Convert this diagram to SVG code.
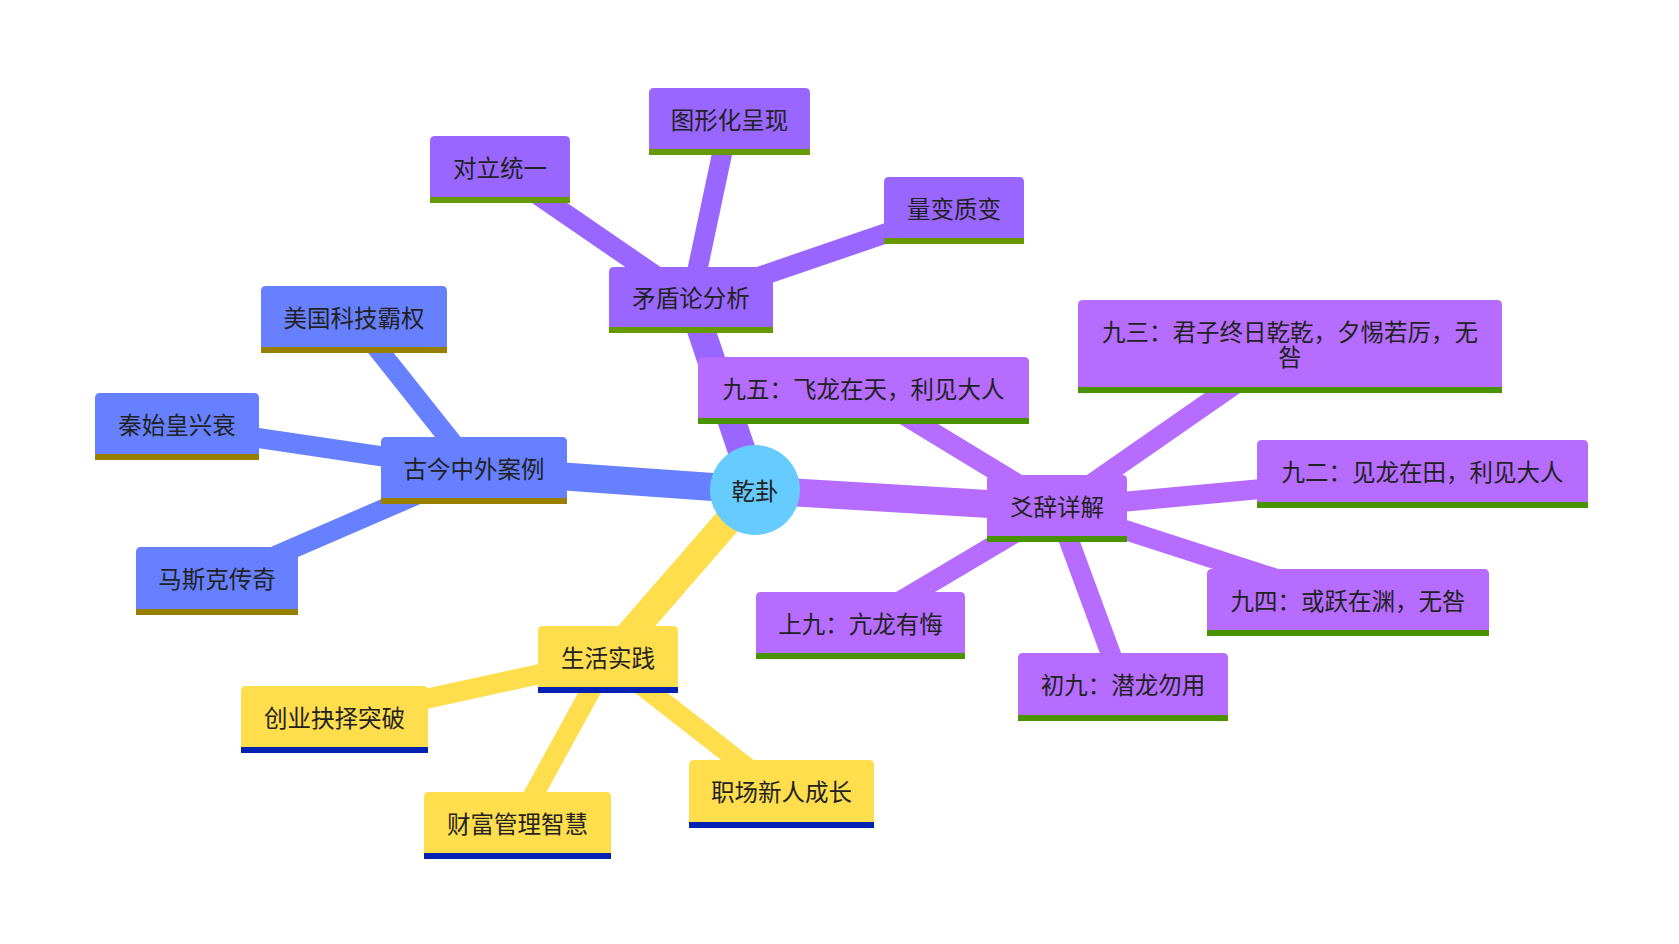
<svg xmlns="http://www.w3.org/2000/svg" width="1679" height="944" viewBox="0 0 1679 944">
<style>
  text { font-family: "Noto Sans CJK SC", "Noto Sans", sans-serif; font-size: 23.5px; fill: #222; text-anchor: middle; dominant-baseline: central; }
  .e0 { stroke-width: 28; fill: none; stroke-linecap: butt; }
  .e1 { stroke-width: 20; fill: none; stroke-linecap: butt; }
  .cb { stroke: #6680ff; } .fb { fill: #6680ff; } .bb { fill: #997f00; }
  .cp { stroke: #9966ff; } .fp { fill: #9966ff; } .bp { fill: #669900; }
  .cq { stroke: #b56cff; } .fq { fill: #b56cff; } .bq { fill: #4a9300; }
  .cy { stroke: #ffde4d; } .fy { fill: #ffde4d; } .by { fill: #0021b2; }
</style>
<rect width="1679" height="944" fill="#ffffff"/>
<g id="connectors">
  <line class="e0 cb" x1="755" y1="490" x2="474" y2="470"/>
  <line class="e0 cp" x1="755" y1="490" x2="691" y2="300"/>
  <line class="e0 cq" x1="755" y1="490" x2="1057" y2="508"/>
  <line class="e0 cy" x1="755" y1="490" x2="608" y2="659"/>
  <line class="e1 cp" x1="691" y1="300" x2="500" y2="169"/>
  <line class="e1 cp" x1="691" y1="300" x2="729" y2="121"/>
  <line class="e1 cp" x1="691" y1="300" x2="954" y2="210"/>
  <line class="e1 cq" x1="1057" y1="508" x2="863" y2="390"/>
  <line class="e1 cq" x1="1057" y1="508" x2="1290" y2="346"/>
  <line class="e1 cq" x1="1057" y1="508" x2="1422" y2="474"/>
  <line class="e1 cq" x1="1057" y1="508" x2="1348" y2="602"/>
  <line class="e1 cq" x1="1057" y1="508" x2="1123" y2="687"/>
  <line class="e1 cq" x1="1057" y1="508" x2="860" y2="625"/>
  <line class="e1 cb" x1="474" y1="470" x2="354" y2="319"/>
  <line class="e1 cb" x1="474" y1="470" x2="177" y2="426"/>
  <line class="e1 cb" x1="474" y1="470" x2="217" y2="581"/>
  <line class="e1 cy" x1="608" y1="659" x2="334" y2="719"/>
  <line class="e1 cy" x1="608" y1="659" x2="517" y2="825"/>
  <line class="e1 cy" x1="608" y1="659" x2="781" y2="794"/>
</g>
<g id="root">
  <circle cx="755" cy="490" r="45" fill="#66ccff"/>
  <text x="755" y="490">乾卦</text>
</g>
<g id="n-maodun">
  <path class="fp" d="M609,333 V272 Q609,267 614,267 H768 Q773,267 773,272 V333 Z"/>
  <rect class="bp" x="609" y="327" width="164" height="6"/>
  <text x="691" y="297">矛盾论分析</text>
</g>
<g id="n-duili">
  <path class="fp" d="M430,203 V141 Q430,136 435,136 H565 Q570,136 570,141 V203 Z"/>
  <rect class="bp" x="430" y="197" width="140" height="6"/>
  <text x="500" y="167">对立统一</text>
</g>
<g id="n-tuxing">
  <path class="fp" d="M649,155 V93 Q649,88 654,88 H805 Q810,88 810,93 V155 Z"/>
  <rect class="bp" x="649" y="149" width="161" height="6"/>
  <text x="729.5" y="119">图形化呈现</text>
</g>
<g id="n-liangbian">
  <path class="fp" d="M884,244 V182 Q884,177 889,177 H1019 Q1024,177 1024,182 V244 Z"/>
  <rect class="bp" x="884" y="238" width="140" height="6"/>
  <text x="954" y="208">量变质变</text>
</g>
<g id="n-yaoci">
  <path class="fq" d="M987,542 V480 Q987,475 992,475 H1122 Q1127,475 1127,480 V542 Z"/>
  <rect class="bq" x="987" y="536" width="140" height="6"/>
  <text x="1057" y="506">爻辞详解</text>
</g>
<g id="n-jiuwu">
  <path class="fq" d="M698,424 V362 Q698,357 703,357 H1024 Q1029,357 1029,362 V424 Z"/>
  <rect class="bq" x="698" y="418" width="331" height="6"/>
  <text x="863.5" y="388">九五：飞龙在天，利见大人</text>
</g>
<g id="n-jiusan">
  <path class="fq" d="M1078,393 V305 Q1078,300 1083,300 H1497 Q1502,300 1502,305 V393 Z"/>
  <rect class="bq" x="1078" y="387" width="424" height="6"/>
  <text x="1290" y="331">九三：君子终日乾乾，夕惕若厉，无</text>
  <text x="1290" y="356">咎</text>
</g>
<g id="n-jiuer">
  <path class="fq" d="M1257,508 V445 Q1257,440 1262,440 H1583 Q1588,440 1588,445 V508 Z"/>
  <rect class="bq" x="1257" y="502" width="331" height="6"/>
  <text x="1422.5" y="471">九二：见龙在田，利见大人</text>
</g>
<g id="n-jiusi">
  <path class="fq" d="M1207,636 V574 Q1207,569 1212,569 H1484 Q1489,569 1489,574 V636 Z"/>
  <rect class="bq" x="1207" y="630" width="282" height="6"/>
  <text x="1348" y="600">九四：或跃在渊，无咎</text>
</g>
<g id="n-chujiu">
  <path class="fq" d="M1018,721 V658 Q1018,653 1023,653 H1223 Q1228,653 1228,658 V721 Z"/>
  <rect class="bq" x="1018" y="715" width="210" height="6"/>
  <text x="1123" y="684">初九：潜龙勿用</text>
</g>
<g id="n-shangjiu">
  <path class="fq" d="M756,659 V597 Q756,592 761,592 H960 Q965,592 965,597 V659 Z"/>
  <rect class="bq" x="756" y="653" width="209" height="6"/>
  <text x="860.5" y="623">上九：亢龙有悔</text>
</g>
<g id="n-gujin">
  <path class="fb" d="M381,504 V442 Q381,437 386,437 H562 Q567,437 567,442 V504 Z"/>
  <rect class="bb" x="381" y="498" width="186" height="6"/>
  <text x="474" y="468">古今中外案例</text>
</g>
<g id="n-meiguo">
  <path class="fb" d="M261,353 V291 Q261,286 266,286 H442 Q447,286 447,291 V353 Z"/>
  <rect class="bb" x="261" y="347" width="186" height="6"/>
  <text x="354" y="317">美国科技霸权</text>
</g>
<g id="n-qin">
  <path class="fb" d="M95,460 V398 Q95,393 100,393 H254 Q259,393 259,398 V460 Z"/>
  <rect class="bb" x="95" y="454" width="164" height="6"/>
  <text x="177" y="424">秦始皇兴衰</text>
</g>
<g id="n-musk">
  <path class="fb" d="M136,615 V552 Q136,547 141,547 H293 Q298,547 298,552 V615 Z"/>
  <rect class="bb" x="136" y="609" width="162" height="6"/>
  <text x="217" y="578">马斯克传奇</text>
</g>
<g id="n-shenghuo">
  <path class="fy" d="M538,693 V631 Q538,626 543,626 H673 Q678,626 678,631 V693 Z"/>
  <rect class="by" x="538" y="687" width="140" height="6"/>
  <text x="608" y="657">生活实践</text>
</g>
<g id="n-chuangye">
  <path class="fy" d="M241,753 V691 Q241,686 246,686 H423 Q428,686 428,691 V753 Z"/>
  <rect class="by" x="241" y="747" width="187" height="6"/>
  <text x="334.5" y="717">创业抉择突破</text>
</g>
<g id="n-caifu">
  <path class="fy" d="M424,859 V797 Q424,792 429,792 H606 Q611,792 611,797 V859 Z"/>
  <rect class="by" x="424" y="853" width="187" height="6"/>
  <text x="517.5" y="823">财富管理智慧</text>
</g>
<g id="n-zhichang">
  <path class="fy" d="M689,828 V765 Q689,760 694,760 H869 Q874,760 874,765 V828 Z"/>
  <rect class="by" x="689" y="822" width="185" height="6"/>
  <text x="781.5" y="791">职场新人成长</text>
</g>
</svg>
